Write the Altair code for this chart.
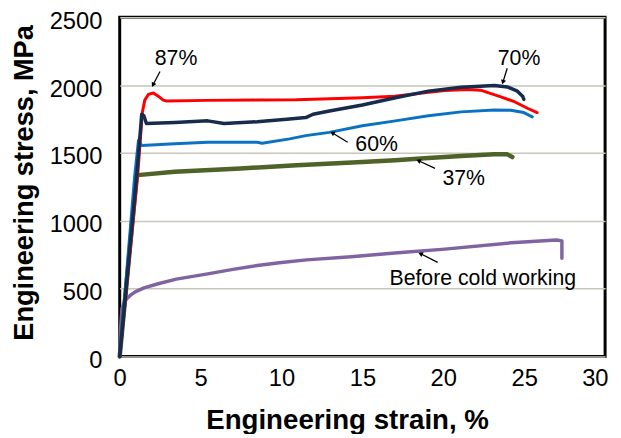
import math
import altair as alt
import pandas as pd

W, H = 491, 343

# ---- curve data (engineering strain %, engineering stress MPa) ----
strain_87 = [0, 1.1, 1.4, 1.55, 1.77, 2.08, 2.38, 2.69, 2.9, 5.4, 8.5, 10.9, 13, 15, 17, 19.1, 20.1, 21.5, 22.3, 23.56, 24.4, 25.2, 25.8]
stress_87 = [0, 1320, 1800, 1890, 1931, 1943, 1919, 1890, 1883, 1888, 1890, 1892, 1900, 1907, 1919, 1948, 1960, 1968, 1963, 1914, 1878, 1830, 1798]

strain_70 = [0, 1.1, 1.36, 1.5, 1.65, 3.4, 5.44, 6.45, 8.5, 10.5, 11.5, 11.95, 12.96, 15.0, 17.04, 19.08, 21.1, 23.15, 23.96, 24.58, 24.9, 24.98]
stress_70 = [0, 1400, 1786, 1773, 1718, 1725, 1737, 1718, 1730, 1750, 1761, 1786, 1810, 1854, 1907, 1956, 1985, 1997, 1987, 1956, 1919, 1895]

strain_60 = [0, 0.92, 1.16, 1.36, 3.4, 5.44, 8.5, 8.8, 10.5, 11.5, 12.96, 15.0, 17.04, 19.08, 21.1, 23.15, 24.17, 24.98, 25.5]
stress_60 = [0, 1324, 1592, 1555, 1568, 1579, 1579, 1572, 1604, 1628, 1652, 1701, 1737, 1774, 1803, 1817, 1815, 1798, 1766]

strain_37 = [0, 1.06, 1.1, 3.4, 7.47, 10.93, 15.0, 17.04, 19.08, 21.1, 23.15, 23.96, 24.27]
stress_37 = [0, 1349, 1337, 1361, 1386, 1410, 1434, 1446, 1463, 1478, 1490, 1490, 1470]

strain_0 = [0, 0.05, 0.14, 0.3, 0.45, 0.7, 0.96, 1.5, 2.38, 3.5, 5.44, 7.0, 8.5, 10.0, 11.55, 14.3, 17.0, 20.1, 24.2, 27.0, 27.33, 27.33]
stress_0 = [0, 200, 354, 405, 427, 455, 476, 505, 536, 570, 609, 642, 670, 692, 712, 735, 762, 791, 838, 859, 852, 723]

# ---- annotations ----
labels = ["87%", "70%", "60%", "37%", "Before cold working"]
label_x = [3.48, 24.68, 15.88, 21.26, 22.44]
label_y = [2203, 2200, 1562, 1315, 580]
arrow_from_x = [2.49, 23.95, 14.09, 19.49, 19.65]
arrow_from_y = [2101, 2125, 1579, 1386, 694]
arrow_to_x = [2.08, 23.70, 13.18, 18.51, 18.63]
arrow_to_y = [2007, 2028, 1645, 1441, 755]

x_ticks = [0, 5, 10, 15, 20, 25, 30]
y_ticks = [0, 500, 1000, 1500, 2000, 2500]

FONT = "Liberation Sans"

x_enc = alt.X(
    "strain:Q",
    scale=alt.Scale(domain=[0, 30], nice=False, zero=False),
    axis=alt.Axis(
        values=x_ticks, title="Engineering strain, %", grid=False, format="d",
        labelPadding=10, titleX=230, titleY=73, titleBaseline="alphabetic",
        titleAlign="center", labelFlush=False,
        labelAlign={"condition": {"test": "datum.value == 30", "value": "right"}, "value": "center"},
        labelOffset={"condition": {"test": "datum.value == 30", "value": 3}, "value": 0},
    ),
)
y_enc = alt.Y(
    "stress:Q",
    scale=alt.Scale(domain=[0, 2500], nice=False),
    axis=alt.Axis(
        values=y_ticks, title="Engineering stress, MPa", grid=True, format="d",
        labelPadding=18, labelOffset=4, titleX=-96, titleY=167, titleFontSize=27.5,
        titleBaseline="middle", titleAlign="center", titleAngle=270, labelFlush=False,
    ),
)


def curve(xs, ys, color, width):
    df = pd.DataFrame({"strain": xs, "stress": ys, "i": list(range(len(xs)))})
    return alt.Chart(df).mark_line(color=color, strokeWidth=width, strokeJoin="round", strokeCap="round").encode(
        x=x_enc, y=y_enc, order="i:Q"
    )


layers = [
    curve(strain_0, stress_0, "#8064a2", 3.5),
    curve(strain_37, stress_37, "#4f6228", 4.5),
    curve(strain_87, stress_87, "#ff0000", 3),
    curve(strain_60, stress_60, "#0a72c2", 3),
    curve(strain_70, stress_70, "#172b4d", 3.5),
]

sx = W / 30.0
sy = H / 2500.0
angles = []
for x1, y1, x2, y2 in zip(arrow_from_x, arrow_from_y, arrow_to_x, arrow_to_y):
    dx = (x2 - x1) * sx
    dy = -(y2 - y1) * sy
    angles.append(math.degrees(math.atan2(dx, -dy)) % 360)

arrow_df = pd.DataFrame({"strain": arrow_from_x, "stress": arrow_from_y,
                         "strain2": arrow_to_x, "stress2": arrow_to_y})
head_df = pd.DataFrame({"strain": arrow_to_x, "stress": arrow_to_y, "ang": angles})
text_df = pd.DataFrame({"strain": label_x, "stress": label_y, "label": labels})

arrows = alt.Chart(arrow_df).mark_rule(color="black", strokeWidth=1.3).encode(
    x=x_enc, y=y_enc, x2="strain2:Q", y2="stress2:Q",
)
heads = alt.Chart(head_df).mark_point(shape="triangle", filled=True, color="black", size=28, opacity=1).encode(
    x=x_enc, y=y_enc, angle=alt.Angle("ang:Q", scale=None),
)
texts = alt.Chart(text_df).mark_text(font=FONT, fontSize=21.5, color="black", baseline="middle", align="center", dy=1).encode(
    x=x_enc, y=y_enc, text="label:N"
)

chart = alt.layer(*layers, arrows, heads, texts).properties(
    width=W, height=H,
    autosize=alt.AutoSizeParams(type="none"),
    padding={"left": 113, "top": 7, "right": 8, "bottom": 76},
).configure_view(
    stroke="black", strokeWidth=3
).configure_axis(
    domain=False, ticks=False,
    labelFont=FONT, labelFontSize=24, labelColor="black",
    titleFont=FONT, titleFontSize=28, titleFontWeight="bold", titleColor="black",
    gridColor="#c6c7b6", gridWidth=1.5,
)

chart.save("out.html", embed_options={"renderer": "svg", "actions": False})
